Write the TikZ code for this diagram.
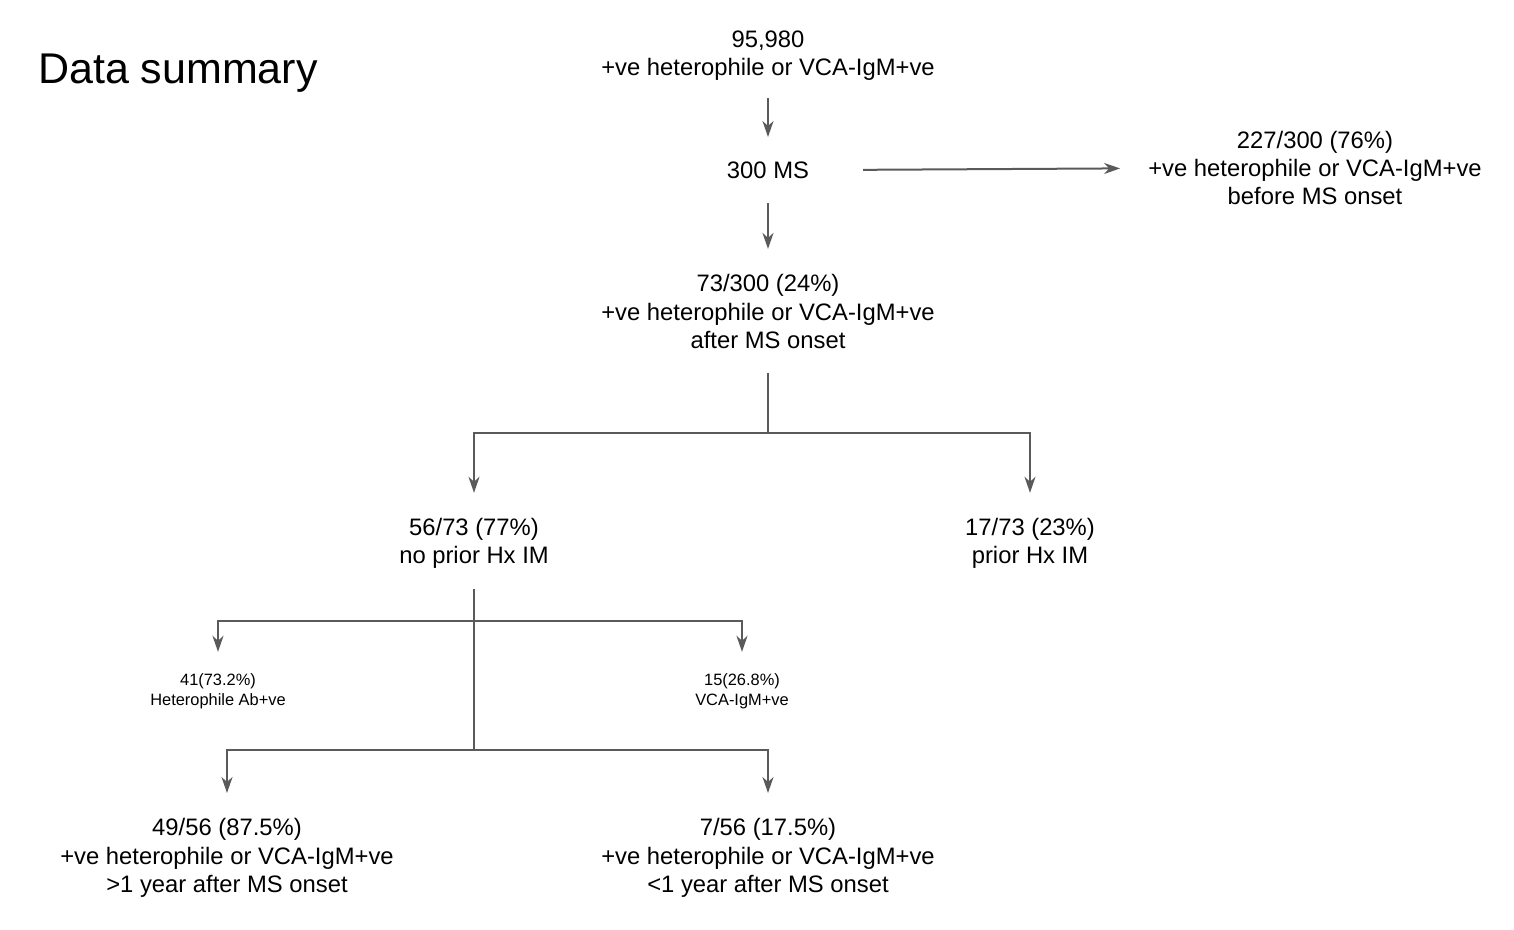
\documentclass[tikz,border=0pt]{standalone}
\usepackage{fontspec}
\setmainfont{Liberation Sans}
\usetikzlibrary{arrows.meta}
\definecolor{lc}{RGB}{90,90,90}
\tikzset{
  big/.style={anchor=north, inner sep=0pt, align=center, font=\fontsize{23.8}{28.2}\selectfont},
  small/.style={anchor=north, inner sep=0pt, align=center, font=\fontsize{16.4}{20}\selectfont},
  conn/.style={draw=lc, line width=2pt},
  arr/.style={conn, -{Stealth[length=16pt, width=11pt, inset=5pt]}},
}
\begin{document}
\begin{tikzpicture}[x=1pt, y=-1pt]
\useasboundingbox (0,0) rectangle (1514,929);
\node[anchor=base west, inner sep=0pt, font=\fontsize{43}{50}\selectfont] (title) at (38,83.3) {Data summary};

\node[big] (n0) at (768,30.3) {95,980\\+ve heterophile or VCA-IgM+ve};
\node[big] (n1) at (768,161.5) {300 MS};
\node[big] (n2) at (1315,131.1) {227/300 (76\%)\\+ve heterophile or VCA-IgM+ve\\before MS onset};
\node[big] (n3) at (768,274.4) {73/300 (24\%)\\+ve heterophile or VCA-IgM+ve\\after MS onset};
\node[big] (n4) at (474,517.8) {56/73 (77\%)\\no prior Hx IM};
\node[big] (n5) at (1030,517.8) {17/73 (23\%)\\prior Hx IM};
\node[small] (n6) at (218,673.8) {41(73.2\%)\\Heterophile Ab+ve};
\node[small] (n7) at (742,673.8) {15(26.8\%)\\VCA-IgM+ve};
\node[big] (n8) at (227,818.4) {49/56 (87.5\%)\\+ve heterophile or VCA-IgM+ve\\>1 year after MS onset};
\node[big] (n9) at (768,818.4) {7/56 (17.5\%)\\+ve heterophile or VCA-IgM+ve\\<1 year after MS onset};

\coordinate (j1) at (768,433);
\coordinate (j2) at (474,621);
\coordinate (j3) at (474,750);

\draw[arr, shorten <=18pt, shorten >=24.5pt] (n0.south) -- (n1.north);
\draw[arr, shorten <=24.5pt, shorten >=25.5pt] (n1.south) -- (n3.north);
\draw[arr, shorten <=54pt, shorten >=28pt] (n1.east) -- (n2.west);

\draw[conn, shorten <=24pt] (n3.south) -- (j1);
\draw[arr, shorten >=25pt] (j1) -| (n4.north);
\draw[arr, shorten >=25pt] (j1) -| (n5.north);

\draw[conn, shorten <=20pt] (n4.south) -- (j3);
\draw[arr, shorten >=22pt] (j2) -| (n6.north);
\draw[arr, shorten >=22pt] (j2) -| (n7.north);
\draw[arr, shorten >=25.4pt] (j3) -| (n8.north);
\draw[arr, shorten >=25.4pt] (j3) -| (n9.north);
\end{tikzpicture}
\end{document}
